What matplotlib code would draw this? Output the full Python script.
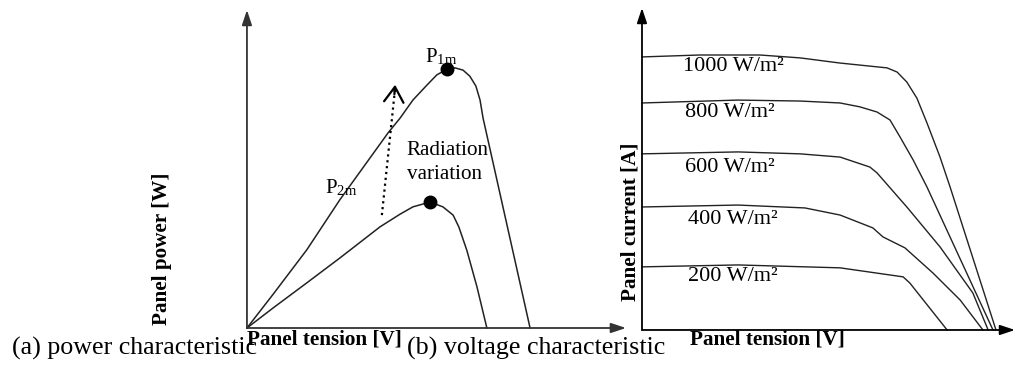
import matplotlib.pyplot as plt
import numpy as np

plt.rcParams['font.family'] = ['Liberation Serif', 'DejaVu Serif']
plt.rcParams['mathtext.fontset'] = 'stix'

# (a) power curves, panel tension vs power (arbitrary units, 0-100)
v_high = [0, 6.9, 15.8, 24.5, 37.2, 40.4, 43.8, 47.5, 50.1, 52.8, 54.9, 57.0, 58.8, 60.4, 61.5, 62.3, 74.7]
p_high = [0, 10.6, 24.6, 40.3, 61.3, 66.0, 71.7, 76.4, 79.6, 81.4, 81.8, 81.1, 79.2, 76.1, 71.7, 66.0, 0]
v_low = [0, 6.9, 15.8, 24.5, 35.1, 40.4, 43.8, 48.3, 51.7, 54.4, 55.9, 58.0, 60.7, 63.3]
p_low = [0, 6.3, 14.2, 22.0, 31.8, 35.8, 38.1, 39.6, 38.1, 35.5, 31.8, 24.5, 12.9, 0]
mpp_v = [52.8, 48.3]
mpp_p = [81.4, 39.6]

# (b) I-V curves for each irradiance
irr_labels = ['1000 W/m²', '800 W/m²', '600 W/m²', '400 W/m²', '200 W/m²']
iv_v = [
    [0, 15.5, 31.6, 42.4, 53.1, 65.7, 68.4, 71.0, 73.7, 76.4, 79.9, 82.6, 94.9],
    [0, 25.7, 42.4, 53.1, 58.4, 63.0, 66.5, 69.2, 72.7, 76.4, 94.1],
    [0, 25.7, 42.4, 53.1, 61.1, 63.0, 71.0, 79.9, 88.7, 92.8],
    [0, 25.7, 43.7, 53.1, 61.9, 64.6, 70.5, 78.0, 85.3, 91.4],
    [0, 25.7, 53.1, 70.0, 71.8, 81.8],
]
iv_i = [
    [84.8, 85.4, 85.4, 84.5, 82.9, 81.4, 80.1, 77.0, 72.0, 64.3, 53.7, 44.4, 0],
    [70.5, 71.4, 71.1, 70.5, 69.3, 67.7, 65.2, 59.9, 52.8, 44.4, 0],
    [54.7, 55.3, 54.7, 53.7, 50.6, 48.8, 38.2, 25.8, 11.5, 0],
    [38.2, 38.8, 37.9, 35.7, 31.7, 28.9, 25.5, 17.7, 9.3, 0],
    [19.6, 20.2, 19.3, 16.5, 14.6, 0],
]
label_pos = [(11.0, 81.7), (11.5, 67.4), (11.5, 50.6), (12.3, 34.2), (12.3, 16.5)]

fig = plt.figure(figsize=(10.15, 3.68), dpi=100)
ax1 = fig.add_axes([0.2433, 0.1087, 0.3734, 0.8641])
ax2 = fig.add_axes([0.6325, 0.1033, 0.3675, 0.875])


def arrow_axes(ax, color):
    # hand-drawn style axes with arrowheads
    for s in ax.spines.values():
        s.set_visible(False)
    ax.set_xticks([])
    ax.set_yticks([])
    ax.set_xlim(0, 100)
    ax.set_ylim(0, 100)
    ax.patch.set_alpha(0)
    for end in [(1, 0), (0, 1)]:
        ax.annotate('', xy=end, xytext=(0, 0), xycoords='axes fraction',
                    arrowprops=dict(arrowstyle='-|>,head_length=0.9,head_width=0.3',
                                    color=color, lw=1.3, shrinkA=0, shrinkB=0),
                    annotation_clip=False)


arrow_axes(ax1, '#333333')
arrow_axes(ax2, 'black')

# power characteristic
ax1.plot(v_high, p_high, color='#222222', lw=1.1, clip_on=False, solid_joinstyle='round')
ax1.plot(v_low, p_low, color='#222222', lw=1.1, clip_on=False, solid_joinstyle='round')
ax1.plot(mpp_v, mpp_p, 'o', color='black', ms=9)
ax1.plot([35.6, 39.1], [35.5, 75.5], ':', color='black', lw=1.6)
ax1.annotate('', xy=(39.1, 76.5), xytext=(38.9, 73.5),
             arrowprops=dict(arrowstyle='->,head_length=1.1,head_width=0.7',
                             color='black', lw=1.6, shrinkA=0, shrinkB=0))
ax1.text(47.0, 85.2, r'P$_{\mathregular{1m}}$', fontsize=15, ha='left', va='center')
ax1.text(20.6, 44.0, r'P$_{\mathregular{2m}}$', fontsize=15, ha='left', va='center')
ax1.text(42.2, 52.0, 'Radiation\nvariation', fontsize=15.2, ha='left', va='center',
         linespacing=1.35)

# voltage characteristic
for vs, cs, lab, pos in zip(iv_v, iv_i, irr_labels, label_pos):
    ax2.plot(vs, cs, color='#222222', lw=1.0, clip_on=False, solid_joinstyle='round')
    ax2.text(pos[0], pos[1], lab, fontsize=16, ha='left', va='center')

# axis labels and captions
fig.text(0.1596, 0.3234, 'Panel power [W]', rotation=90, fontsize=15.2,
         fontweight='bold', ha='center', va='center')
fig.text(0.2433, 0.0761, 'Panel tension [V]', fontsize=15.2, fontweight='bold',
         ha='left', va='center')
fig.text(0.6207, 0.397, 'Panel current [A]', rotation=90, fontsize=15.2,
         fontweight='bold', ha='center', va='center')
fig.text(0.6798, 0.0788, 'Panel tension [V]', fontsize=15.2, fontweight='bold',
         ha='left', va='center')
fig.text(0.0118, 0.052, '(a) power characteristic', fontsize=18.7, ha='left', va='center')
fig.text(0.401, 0.052, '(b) voltage characteristic', fontsize=18.7, ha='left', va='center')

fig.savefig('out.png', dpi=100)
